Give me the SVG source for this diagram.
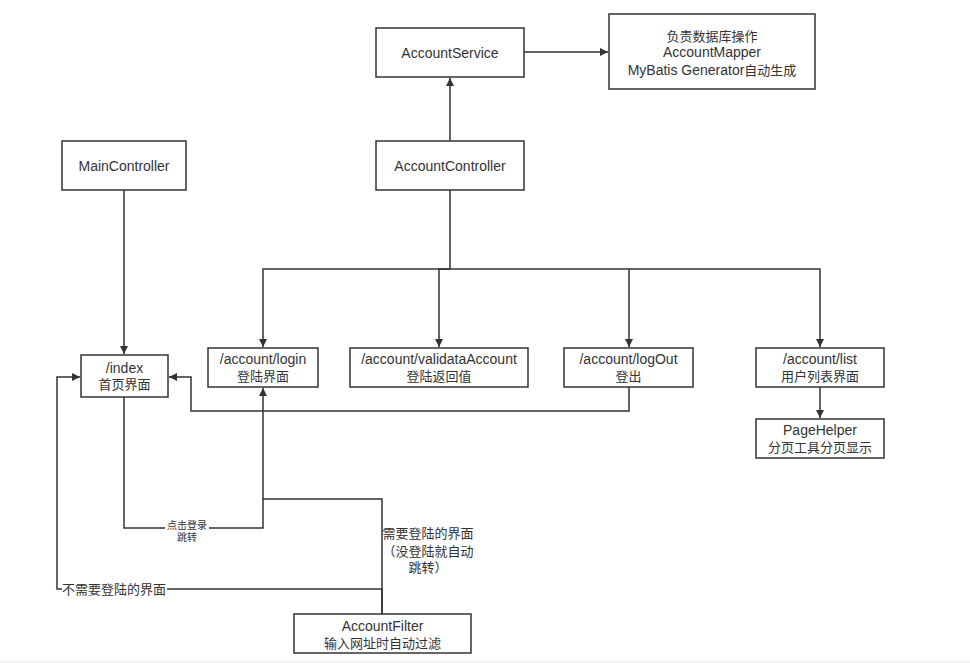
<svg xmlns="http://www.w3.org/2000/svg" width="970" height="663" viewBox="0 0 970 663">
<style>
.box{fill:#fff;stroke:#333;stroke-width:1.5}
.t{font-family:"Liberation Sans","Noto Sans CJK SC",sans-serif;font-size:13px;fill:#333;text-anchor:middle;dominant-baseline:central}
.l{font-size:14px}
.s{font-size:10px}
.e{fill:none;stroke:#333;stroke-width:1.5}
</style>
<defs>
<marker id="arr" viewBox="0 0 10 10" refX="10" refY="5" markerWidth="8" markerHeight="8" markerUnits="userSpaceOnUse" orient="auto">
<path d="M0,0 L10,5 L0,10 z" fill="#333"/>
</marker>
</defs>
<rect x="0" y="0" width="970" height="663" fill="#fff"/>
<rect x="0" y="661" width="970" height="2" fill="#f2f2f2"/>
<g id="connectors">
<path class="e" d="M450 141 L450 78" marker-end="url(#arr)"/>
<path class="e" d="M524 52 L608 52" marker-end="url(#arr)"/>
<path class="e" d="M124 190 L124 354" marker-end="url(#arr)"/>
<path class="e" d="M450 190 L450 269 L263 269 L263 347" marker-end="url(#arr)"/>
<path class="e" d="M450 269 L439 269 L439 347" marker-end="url(#arr)"/>
<path class="e" d="M450 269 L629 269 L629 347" marker-end="url(#arr)"/>
<path class="e" d="M629 269 L820 269 L820 347" marker-end="url(#arr)"/>
<path class="e" d="M820 387 L820 418" marker-end="url(#arr)"/>
<path class="e" d="M629 387 L629 411 L191 411 L191 377 L169 377" marker-end="url(#arr)"/>
<path class="e" d="M124 397 L124 528 L263 528 L263 499"/>
<path class="e" d="M382 614 L382 499 L263 499 L263 388" marker-end="url(#arr)"/>
<path class="e" d="M382 614 L382 589 L57 589 L57 377 L80 377" marker-end="url(#arr)"/>
<rect x="165" y="520" width="44" height="11" fill="#fff"/>
<text class="t s" x="187" y="525">点击登录</text>
<text class="t s" x="187" y="537">跳转</text>
<rect x="62" y="582" width="105" height="15" fill="#fff"/>
<text class="t" x="114" y="589">不需要登陆的界面</text>
<text class="t" x="428" y="533">需要登陆的界面</text>
<text class="t" x="428" y="551">（没登陆就自动</text>
<text class="t" x="428" y="567">跳转）</text>
</g>
<g id="accountService">
<rect class="box" x="376" y="28" width="148" height="49"/>
<text class="t l" x="450" y="53">AccountService</text>
</g>
<g id="accountMapper">
<rect class="box" x="609" y="14" width="206" height="75"/>
<text class="t" x="712" y="36">负责数据库操作</text>
<text class="t l" x="712" y="52">AccountMapper</text>
<text class="t" x="712" y="70"><tspan class="l">MyBatis Generator</tspan>自动生成</text>
</g>
<g id="accountController">
<rect class="box" x="376" y="141" width="148" height="49"/>
<text class="t l" x="450" y="166">AccountController</text>
</g>
<g id="mainController">
<rect class="box" x="62" y="141" width="124" height="49"/>
<text class="t l" x="124" y="166">MainController</text>
</g>
<g id="index">
<rect class="box" x="81" y="355" width="87" height="42"/>
<text class="t l" x="124.5" y="368">/index</text>
<text class="t" x="124.5" y="384">首页界面</text>
</g>
<g id="login">
<rect class="box" x="208" y="348" width="110" height="39"/>
<text class="t l" x="263" y="359">/account/login</text>
<text class="t" x="263" y="376">登陆界面</text>
</g>
<g id="validataAccount">
<rect class="box" x="350" y="348" width="178" height="39"/>
<text class="t l" x="439" y="359">/account/validataAccount</text>
<text class="t" x="439" y="376">登陆返回值</text>
</g>
<g id="logOut">
<rect class="box" x="564" y="348" width="129" height="39"/>
<text class="t l" x="628.5" y="359">/account/logOut</text>
<text class="t" x="628.5" y="376">登出</text>
</g>
<g id="list">
<rect class="box" x="756" y="348" width="128" height="39"/>
<text class="t l" x="820" y="359">/account/list</text>
<text class="t" x="820" y="376">用户列表界面</text>
</g>
<g id="pageHelper">
<rect class="box" x="756" y="419" width="128" height="39"/>
<text class="t l" x="820" y="430">PageHelper</text>
<text class="t" x="820" y="447">分页工具分页显示</text>
</g>
<g id="accountFilter">
<rect class="box" x="294" y="614" width="177" height="39"/>
<text class="t l" x="382.5" y="626">AccountFilter</text>
<text class="t" x="382.5" y="643">输入网址时自动过滤</text>
</g>
</svg>
